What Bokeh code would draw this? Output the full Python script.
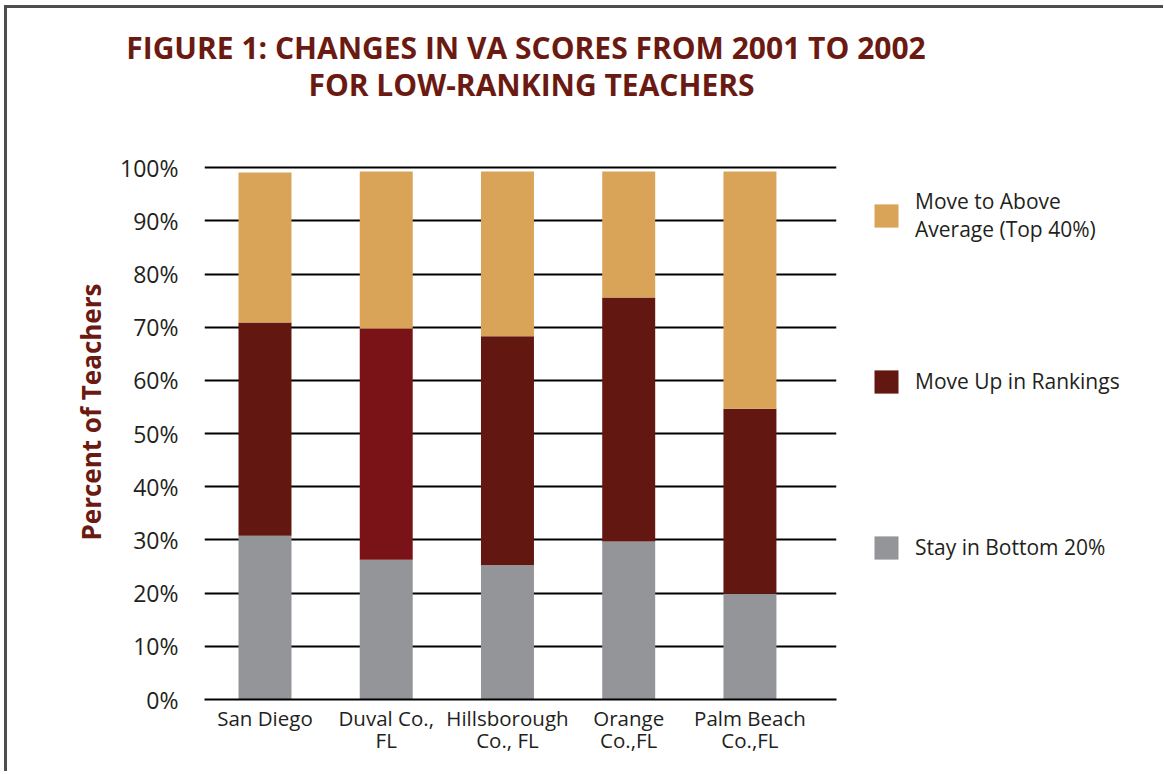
from bokeh.plotting import figure
from bokeh.layouts import column, row
from bokeh.models import (ColumnDataSource, FixedTicker, PrintfTickFormatter, Title, Label,
                          Legend, LegendItem, Range1d)
from bokeh.embed import file_html
from bokeh.resources import INLINE

# ---- data ----
district_labels = ["San Diego", "Duval Co.,\nFL", "Hillsborough\nCo., FL", "Orange\nCo.,FL", "Palm Beach\nCo.,FL"]
stay_bottom = [30.8, 26.3, 25.3, 29.7, 19.9]
move_up = [40.1, 43.5, 43.0, 45.9, 34.8]
above_avg = [28.2, 29.5, 31.0, 23.7, 44.6]
series_names = ["Move to Above\nAverage (Top 40%)", "Move Up in Rankings", "Stay in Bottom 20%"]
y_ticks = [0, 10, 20, 30, 40, 50, 60, 70, 80, 90, 100]
title_lines = ["FIGURE 1: CHANGES IN VA SCORES FROM 2001 TO 2002", "FOR LOW-RANKING TEACHERS"]
y_title = "Percent of Teachers"

# ---- colours ----
GOLD = "#D9A457"
DARK_RED = "#621710"
DUVAL_RED = "#7A1318"
GRAY = "#939598"
TITLE_RED = "#6B1A12"
TEXT = "#231F20"
FONT = "Open Sans"

xs = list(range(len(district_labels)))
b1 = [0.0] * len(xs)
t1 = [s for s in stay_bottom]
t2 = [a + b for a, b in zip(t1, move_up)]
t3 = [a + b for a, b in zip(t2, above_avg)]
mid_colors = [DUVAL_RED if i == 1 else DARK_RED for i in xs]
src = ColumnDataSource(dict(x=xs, b1=b1, t1=t1, t2=t2, t3=t3, mid_color=mid_colors))

TOTAL_W = 1156
T_H = 122
M_W, M_H = 834, 641
L_W = TOTAL_W - M_W


def bare(fig):
    fig.outline_line_color = None
    fig.background_fill_color = "white"
    fig.border_fill_color = "white"
    fig.xgrid.visible = False
    fig.ygrid.visible = False


# ---------- title figure ----------
pt = figure(width=TOTAL_W, height=T_H, output_backend="svg", toolbar_location=None,
            x_range=Range1d(0, TOTAL_W), y_range=Range1d(T_H, 0),
            x_axis_location=None, y_axis_location=None,
            min_border=0, min_border_left=0, min_border_right=0, min_border_top=0, min_border_bottom=0)
bare(pt)
for txt, cx, by in zip(title_lines, [518.5, 524.0], [39, 76]):
    pt.add_layout(Label(x=cx, y=by, text=txt, text_align="center", text_baseline="alphabetic",
                        text_font=FONT, text_font_style="bold", text_font_size="30px",
                        text_color=TITLE_RED))

# ---------- main chart ----------
p = figure(width=M_W, height=M_H, output_backend="svg", toolbar_location=None,
           x_range=Range1d(-0.499, 4.714), y_range=Range1d(0, 101),
           min_border_left=197, min_border_right=5, min_border_top=32, min_border_bottom=72)
p.outline_line_color = None
p.background_fill_color = "white"
p.border_fill_color = "white"

BW = 0.437
r_bottom = p.vbar(x="x", bottom="b1", top="t1", width=BW, color=GRAY, line_color=None, source=src)
r_mid = p.vbar(x="x", bottom="t1", top="t2", width=BW, fill_color="mid_color", line_color=None, source=src)
r_top = p.vbar(x="x", bottom="t2", top="t3", width=BW, color=GOLD, line_color=None, source=src)

p.xgrid.grid_line_color = None
p.ygrid.grid_line_color = "black"
p.ygrid.grid_line_width = 2
p.ygrid.level = "underlay"

p.yaxis.ticker = FixedTicker(ticks=y_ticks)
p.yaxis.formatter = PrintfTickFormatter(format="%d%%")
p.yaxis.axis_line_color = None
p.yaxis.major_tick_line_color = None
p.yaxis.minor_tick_line_color = None
p.yaxis.major_tick_out = 0
p.yaxis.major_tick_in = 0
p.yaxis.minor_tick_out = 0
p.yaxis.major_label_standoff = 26
p.yaxis.major_label_text_font = FONT
p.yaxis.major_label_text_font_size = "23px"
p.yaxis.major_label_text_color = TEXT

p.xaxis.ticker = FixedTicker(ticks=xs)
p.xaxis.major_label_overrides = {i: lab for i, lab in zip(xs, district_labels)}
p.xaxis.axis_line_color = "black"
p.xaxis.axis_line_width = 2
p.xaxis.major_tick_line_color = None
p.xaxis.minor_tick_line_color = None
p.xaxis.major_tick_out = 0
p.xaxis.major_tick_in = 0
p.xaxis.minor_tick_out = 0
p.xaxis.major_label_standoff = 4
p.xaxis.major_label_text_font = FONT
p.xaxis.major_label_text_font_size = "20.5px"
p.xaxis.major_label_text_color = TEXT
p.xaxis.major_label_text_line_height = 0.81

yt = Title(text=y_title, align="left", offset=159, standoff=17,
           text_font=FONT, text_font_style="bold", text_font_size="26px", text_color=TITLE_RED)
p.add_layout(yt, "left")

# ---------- legend figure ----------
pl = figure(width=L_W, height=M_H, output_backend="svg", toolbar_location=None,
            x_range=Range1d(0, 1), y_range=Range1d(0, 1),
            x_axis_location=None, y_axis_location=None,
            min_border=0, min_border_left=0, min_border_right=0, min_border_top=0, min_border_bottom=0)
bare(pl)
# zero-height swatches only used to give the legend its colours
swatch = ColumnDataSource(dict(x=[-5.0], top=[0.0]))
lg_top = pl.vbar(x="x", top="top", width=0.1, color=GOLD, line_color=None, source=swatch)
lg_mid = pl.vbar(x="x", top="top", width=0.1, color=DARK_RED, line_color=None, source=swatch)
lg_bot = pl.vbar(x="x", top="top", width=0.1, color=GRAY, line_color=None, source=swatch)

legend = Legend(items=[
    LegendItem(label=series_names[0], renderers=[lg_top], index=0),
    LegendItem(label=series_names[1], renderers=[lg_mid], index=0),
    LegendItem(label=series_names[2], renderers=[lg_bot], index=0),
], location=(30, 120))
legend.border_line_color = None
legend.background_fill_alpha = 0
legend.label_text_font = FONT
legend.label_text_font_size = "21px"
legend.label_text_color = TEXT
legend.label_text_line_height = 1.5
legend.glyph_width = 30
legend.glyph_height = 29
legend.label_standoff = 14
legend.label_height = 64
legend.spacing = 102
legend.padding = 0
legend.margin = 0
pl.add_layout(legend, "center")

layout = column(pt, row(p, pl), styles={
    "margin-left": "4px", "margin-top": "5px",
    "border-left": "3px solid #4d4d4d", "border-top": "3px solid #4d4d4d",
    "border-right": "0px none transparent", "border-bottom": "0px none transparent"})

open("out.html", "w").write(file_html(layout, INLINE))
